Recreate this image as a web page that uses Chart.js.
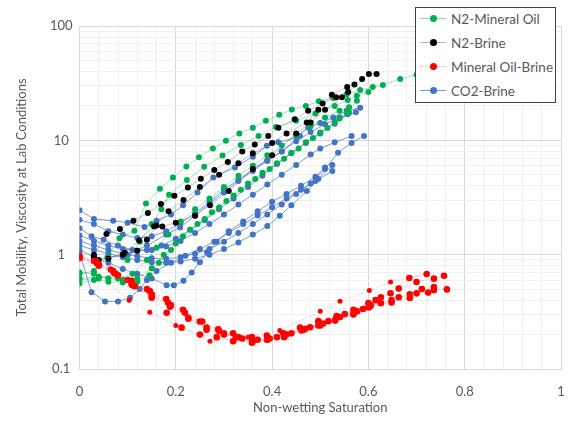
<!DOCTYPE html>
<html lang="en">
<head>
<meta charset="UTF-8">
<title>Total mobility vs non-wetting saturation</title>
<script src="https://cdn.jsdelivr.net/npm/chart.js"></script>
<style>
  body { margin: 0; background: #fff; }
  .wrap { position: relative; width: 571px; height: 422px; }
  #legend {
    position: absolute; left: 415px; top: 7px; width: 139px; height: 94px;
    border: 1.5px solid #404040; background: #fff;
    font-family: Lato, sans-serif; font-size: 13.5px; color: #595959;
  }
  .item { position: absolute; left: 0; height: 20px; display: flex; align-items: center; white-space: nowrap; }
  .swatch { position: relative; width: 26px; height: 10px; margin-left: 4px; margin-right: 5px; }
  .swatch .ln { position: absolute; left: 0; right: 0; top: 4.5px; height: 0; border-top: 1px solid; }
  .swatch .dot { position: absolute; left: 9.5px; top: 1.5px; width: 7px; height: 7px; border-radius: 50%; }
</style>
</head>
<body>
<div class="wrap">
  <canvas id="chart" width="571" height="422"></canvas>
  <div id="legend"></div>
</div>
<script>
// axis labels
const xLabelValues = [0, 0.2, 0.4, 0.6, 0.8, 1];
const yLabelValues = [0.1, 1, 10, 100];

// N2-Mineral Oil runs [saturation, mobility]
const n2Oil1 = [[0,0.68],[0.03,0.72],[0.058,0.95],[0.083,1.39],[0.114,1.62],[0.138,2.8],[0.167,3.77],[0.194,4.73],[0.222,5.9],[0.248,7.1],[0.277,8.5],[0.304,9.9],[0.332,11.5],[0.36,12.9],[0.387,14.8],[0.415,16.7],[0.441,18.6],[0.47,20],[0.497,22],[0.527,23.5],[0.555,25.3],[0.583,27.5],[0.609,29.3],[0.63,30.5],[0.666,34.4],[0.7,37.5]];
const n2Oil2 = [[0,0.6],[0.04,0.62],[0.075,0.68],[0.1,0.9],[0.125,1.3],[0.15,1.85],[0.17,2.5],[0.186,3.34],[0.223,4.49],[0.259,5.87],[0.297,7.37],[0.335,9.1],[0.372,10.9],[0.408,13.1],[0.45,14.8],[0.49,17.2],[0.53,20],[0.557,22.5],[0.576,24.5],[0.6,26.5]];
const n2Oil3 = [[0,0.7],[0.03,0.68],[0.06,0.62],[0.09,0.6],[0.12,0.62],[0.15,0.76],[0.175,1.0],[0.2,1.25],[0.23,1.65],[0.26,2.05],[0.29,2.6],[0.32,3.3],[0.35,4.2],[0.38,5.2],[0.41,6.3],[0.44,7.8],[0.47,9.6],[0.5,11.7],[0.53,14.5],[0.555,17.5],[0.576,22.2]];
const n2Oil4 = [[0,0.56],[0.03,0.6],[0.06,0.58],[0.09,0.57],[0.12,0.58],[0.145,0.66],[0.165,0.85],[0.19,1.1],[0.215,1.45],[0.245,1.85],[0.275,2.35],[0.305,2.95],[0.335,3.7],[0.365,4.6],[0.395,5.6],[0.425,6.9],[0.455,8.5],[0.485,10.5],[0.515,12.8],[0.54,15.5],[0.56,17.5]];
const n2Oil5 = [[0,0.62],[0.04,0.64],[0.08,0.62],[0.11,0.68],[0.14,0.9],[0.16,1.15],[0.185,1.5],[0.21,1.95],[0.24,2.5],[0.27,3.1],[0.3,3.9],[0.33,4.9],[0.36,6.0],[0.39,7.4],[0.42,9.0],[0.45,11],[0.48,13.3],[0.51,15.8],[0.54,18.1],[0.56,19.5]];

// N2-Brine runs
const n2Brine1 = [[0.03,1.0],[0.056,1.52],[0.084,1.68],[0.112,1.98],[0.142,2.31],[0.169,2.77],[0.197,3.28],[0.225,3.87],[0.252,4.61],[0.28,5.5],[0.308,6.45],[0.338,8.0],[0.364,9.2],[0.392,10.9],[0.413,12.9],[0.447,15.3],[0.475,18.1],[0.505,21],[0.533,23.8],[0.558,26.5],[0.587,34.4],[0.601,38.1],[0.617,38.1]];
const n2Brine2 = [[0.04,0.9],[0.09,1.0],[0.12,1.08],[0.14,1.35],[0.16,1.8],[0.185,2.4],[0.216,3.0],[0.25,3.9],[0.29,5.0],[0.33,6.3],[0.36,7.7],[0.4,9.5],[0.43,11.5],[0.472,14.3],[0.496,18.5],[0.524,25.1],[0.556,29.3],[0.571,30.8]];
const n2Brine3 = [[0.03,0.94],[0.06,0.92],[0.094,1.04],[0.124,1.33],[0.155,1.76],[0.172,1.76],[0.2,1.9],[0.24,2.19],[0.271,2.71],[0.31,3.6],[0.36,5.6],[0.4,7.4],[0.45,11.5],[0.48,14.3],[0.51,18.5],[0.545,23.8]];

// Mineral Oil-Brine runs
const oilBrine1 = [[0,0.96],[0.035,0.87],[0.07,0.72],[0.108,0.59],[0.146,0.48],[0.184,0.38],[0.219,0.31],[0.25,0.26],[0.288,0.222],[0.319,0.205],[0.358,0.19],[0.389,0.196],[0.423,0.205],[0.458,0.23],[0.496,0.262],[0.534,0.29],[0.569,0.33],[0.6,0.378],[0.626,0.424],[0.663,0.505],[0.7,0.577],[0.736,0.617],[0.757,0.655]];
const oilBrine2 = [[0,0.94],[0.036,0.84],[0.072,0.69],[0.108,0.55],[0.15,0.43],[0.188,0.35],[0.226,0.275],[0.264,0.22],[0.3,0.2],[0.338,0.185],[0.37,0.18],[0.41,0.19],[0.44,0.205],[0.479,0.232],[0.517,0.262],[0.551,0.303],[0.589,0.335],[0.615,0.4],[0.646,0.46],[0.685,0.625],[0.721,0.678]];
const oilBrine3 = [[0,0.95],[0.04,0.82],[0.075,0.68],[0.11,0.54],[0.15,0.42],[0.181,0.31],[0.212,0.23],[0.25,0.2],[0.285,0.19],[0.319,0.175],[0.358,0.17],[0.39,0.18],[0.428,0.2],[0.466,0.22],[0.5,0.24],[0.531,0.27],[0.569,0.308],[0.602,0.347],[0.626,0.376],[0.663,0.424],[0.7,0.459],[0.736,0.49],[0.763,0.497]];
const oilBrine4 = [[0,0.93],[0.04,0.8],[0.08,0.66],[0.115,0.53],[0.15,0.45],[0.19,0.36],[0.226,0.28],[0.264,0.23],[0.3,0.205],[0.33,0.19],[0.36,0.18],[0.395,0.185],[0.43,0.2],[0.469,0.225],[0.506,0.25],[0.541,0.285],[0.577,0.32],[0.605,0.36],[0.648,0.4],[0.686,0.45],[0.711,0.5],[0.736,0.52]];
const oilBrine5 = [[0,0.97],[0.03,0.88],[0.065,0.74],[0.1,0.6],[0.14,0.5],[0.18,0.41],[0.215,0.33],[0.255,0.26],[0.29,0.215],[0.325,0.19],[0.36,0.175],[0.39,0.18],[0.425,0.19],[0.461,0.217],[0.496,0.24],[0.531,0.265],[0.569,0.3],[0.6,0.347],[0.648,0.381],[0.686,0.418],[0.724,0.466]];
const oilBrine6 = [[0,0.95],[0.103,0.4],[0.146,0.314],[0.2,0.24],[0.271,0.175],[0.35,0.19],[0.416,0.217],[0.5,0.32],[0.541,0.391],[0.602,0.485],[0.646,0.577],[0.721,0.678]];

// CO2-Brine runs
const co2Brine1 = [[0,2.45],[0.03,2.05],[0.07,1.98],[0.1,1.9],[0.135,1.75],[0.16,1.98],[0.19,2.25],[0.215,2.7],[0.245,3.5],[0.278,4.73],[0.323,5.8],[0.36,7.2],[0.389,8.95],[0.413,9.6],[0.451,10.6],[0.475,12.9],[0.5,14.2],[0.527,15.8],[0.555,18.1],[0.583,19.3]];
const co2Brine2 = [[0,2.02],[0.03,1.85],[0.06,1.6],[0.09,1.5],[0.12,1.4],[0.15,1.45],[0.18,1.6],[0.21,1.9],[0.24,2.3],[0.27,2.9],[0.3,3.7],[0.33,4.5],[0.36,5.6],[0.39,6.7],[0.42,8.0],[0.45,9.8],[0.48,11.8],[0.51,13.8],[0.54,15.8],[0.574,17.6]];
const co2Brine3 = [[0,1.7],[0.025,1.45],[0.05,1.35],[0.08,1.2],[0.11,1.1],[0.14,1.1],[0.17,1.2],[0.2,1.38],[0.23,1.65],[0.26,2.0],[0.29,2.5],[0.32,3.1],[0.35,3.9],[0.38,4.9],[0.41,6.2],[0.44,7.7],[0.47,9.5],[0.5,11.5],[0.53,14],[0.557,16.9]];
const co2Brine4 = [[0,1.47],[0.03,1.32],[0.06,1.2],[0.09,1.12],[0.12,1.08],[0.15,1.1],[0.18,1.18],[0.21,1.32],[0.24,1.55],[0.27,1.85],[0.3,2.25],[0.33,2.75],[0.36,3.35],[0.39,4.1],[0.42,5.0],[0.45,6.1],[0.48,7.5],[0.5,8.5],[0.53,9.6],[0.565,10.9]];
const co2Brine5 = [[0,1.32],[0.03,1.2],[0.06,1.1],[0.09,1.02],[0.12,0.97],[0.15,0.93],[0.18,0.92],[0.21,0.95],[0.24,1.02],[0.27,1.12],[0.3,1.3],[0.33,1.55],[0.36,1.85],[0.39,2.25],[0.42,2.75],[0.45,3.4],[0.48,4.2],[0.51,5.6],[0.537,7.8],[0.565,9.5],[0.591,10.9]];
const co2Brine6 = [[0,1.2],[0.03,1.1],[0.06,1.02],[0.09,0.95],[0.12,0.9],[0.15,0.86],[0.18,0.85],[0.21,0.87],[0.24,0.92],[0.27,1.0],[0.3,1.12],[0.33,1.28],[0.36,1.5],[0.39,1.78],[0.416,2.19],[0.44,2.7],[0.472,3.6],[0.496,4.6],[0.525,6.07]];
const co2Brine7 = [[0,1.1],[0.03,0.95],[0.06,0.85],[0.09,0.75],[0.12,0.68],[0.15,0.62],[0.181,0.54],[0.196,0.54],[0.216,0.59],[0.233,0.7],[0.25,0.86],[0.265,1.05],[0.285,1.3],[0.31,1.6],[0.34,1.95],[0.37,2.4],[0.4,2.9],[0.43,3.4],[0.46,4.0],[0.49,4.8],[0.51,5.79]];
const co2Brine8 = [[0,1.05],[0.025,0.47],[0.053,0.39],[0.08,0.39],[0.105,0.42],[0.125,0.5],[0.14,0.6],[0.16,0.72],[0.19,0.85],[0.22,0.98],[0.25,1.12],[0.28,1.3],[0.31,1.55],[0.34,1.85],[0.37,2.2],[0.4,2.6],[0.43,3.1],[0.46,3.7],[0.49,4.4],[0.525,5.4]];
const co2Brine9 = [[0.06,0.95],[0.1,1.0],[0.14,1.2],[0.18,1.5],[0.209,1.73],[0.24,2.2],[0.27,2.8],[0.3,3.5],[0.33,4.4],[0.36,5.4],[0.39,6.6],[0.42,8.0],[0.458,10.9]];

const groups = [
  { name: 'N2-Mineral Oil', runs: [n2Oil1, n2Oil2, n2Oil3, n2Oil4, n2Oil5], dot: '#00b050', line: 'rgba(0,176,80,0.45)', width: 0.8, dash: [], r: 3, order: 3 },
  { name: 'N2-Brine', runs: [n2Brine1, n2Brine2, n2Brine3], dot: '#000000', line: 'rgba(120,120,120,0.55)', width: 0.8, dash: [], r: 3, order: 2 },
  { name: 'Mineral Oil-Brine', runs: [oilBrine1, oilBrine2, oilBrine3, oilBrine4, oilBrine5, oilBrine6], dot: '#ff0000', line: 'rgba(255,80,80,0.45)', width: 0.8, dash: [2, 2], r: 3.3, order: 1 },
  { name: 'CO2-Brine', runs: [co2Brine1, co2Brine2, co2Brine3, co2Brine4, co2Brine5, co2Brine6, co2Brine7, co2Brine8, co2Brine9], dot: '#4472c4', line: 'rgba(68,114,196,0.7)', width: 1, dash: [], r: 3, order: 4 }
];

const datasets = [];
groups.forEach(g => {
  g.runs.forEach((run, i) => {
    datasets.push({
      label: g.name + ' ' + (i + 1),
      data: run.map(p => ({ x: p[0], y: p[1] })),
      showLine: true,
      borderColor: g.line,
      borderWidth: g.width,
      borderDash: g.dash,
      pointRadius: (g.name === 'Mineral Oil-Brine' && i === 5) ? 2.5 : g.r,
      pointBackgroundColor: g.dot,
      pointBorderWidth: 0,
      order: g.order
    });
  });
});

// legend as plain html
const legend = document.getElementById('legend');
groups.forEach((g, i) => {
  const item = document.createElement('div');
  item.className = 'item';
  item.style.top = (0.5 + i * 24) + 'px';
  item.innerHTML = '<span class="swatch"><span class="ln" style="border-top-color:' + g.line +
    (g.dash.length ? ';border-top-style:dotted' : '') + '"></span><span class="dot" style="background:' + g.dot +
    '"></span></span><span>' + g.name + '</span>';
  legend.appendChild(item);
});

const isLabel = (list, v) => list.some(l => Math.abs(l - v) < 1e-9);
const font = { family: 'Lato, sans-serif', size: 13 };

new Chart(document.getElementById('chart'), {
  type: 'scatter',
  data: { datasets: datasets },
  options: {
    responsive: false,
    animation: false,
    layout: { padding: { left: 0, top: 26, right: 10, bottom: 0 } },
    plugins: { legend: { display: false }, tooltip: { enabled: false } },
    scales: {
      x: {
        type: 'linear', min: 0, max: 1,
        afterBuildTicks: s => {
          const t = [];
          for (let i = 0; i <= 25; i++) t.push({ value: Math.round(i * 4) / 100 });
          s.ticks = t;
        },
        // fixed axis band, and no extra side room for the end labels
        afterFit: s => { s.height = 53; s.paddingLeft = 0; s.paddingRight = 0; },
        grid: {
          drawTicks: false,
          color: c => isLabel(xLabelValues, c.tick.value) ? '#d9d9d9' : '#f0f0f0'
        },
        border: { color: '#d9d9d9' },
        ticks: {
          autoSkip: false, maxRotation: 0, padding: 15, color: '#595959', font: font,
          callback: v => isLabel(xLabelValues, v) ? String(v) : ''
        },
        title: { display: true, text: 'Non-wetting Saturation', color: '#595959', font: font, padding: { top: 0, bottom: 6 } }
      },
      y: {
        type: 'logarithmic', min: 0.1, max: 100,
        afterBuildTicks: s => {
          const t = [];
          yLabelValues.slice(0, 3).forEach(d => {
            for (let k = 1; k <= 9; k++) t.push({ value: +(k * d).toPrecision(6) });
          });
          t.push({ value: 100 });
          s.ticks = t;
        },
        afterFit: s => { s.width = 79.5; s.paddingTop = 0; s.paddingBottom = 0; },
        grid: {
          drawTicks: false,
          color: c => isLabel(yLabelValues, c.tick.value) ? '#d9d9d9' : '#f0f0f0'
        },
        border: { color: '#d9d9d9' },
        ticks: {
          autoSkip: false, crossAlign: 'center', padding: 7, color: '#595959', font: font,
          callback: v => isLabel(yLabelValues, v) ? String(v) : ''
        },
        title: { display: true, text: 'Total Mobility, Viscosity at Lab Conditions', color: '#595959', font: font, padding: { top: 14, bottom: 0 } }
      }
    }
  }
});
</script>
</body>
</html>
